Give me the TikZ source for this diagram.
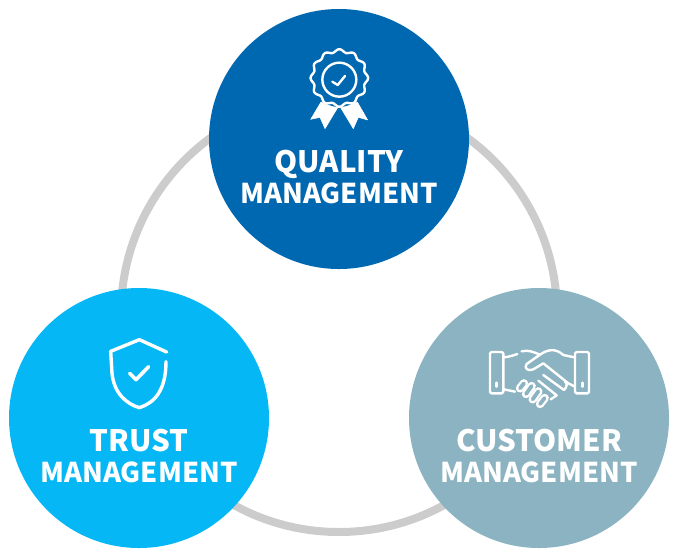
\documentclass[tikz,border=0pt]{standalone}
\usepackage{fontspec}
\setmainfont{Noto Sans CJK KR}
\tikzset{
  disc/.style={circle,minimum size=260pt,inner sep=0pt,draw=none},
  labelbig/.style={text=white,font=\fontsize{29.5}{34}\selectfont\bfseries,align=center,inner sep=0pt,anchor=base},
  labelsmall/.style={text=white,font=\fontsize{27.3}{34}\selectfont\bfseries,align=center,inner sep=0pt,anchor=base},
  icon/.style={draw=white,line width=2.3pt,line cap=round,line join=round,fill=none},
  iconfill/.style={fill=white,draw=white,line width=.5pt,line join=round},
  thinicon/.style={draw=white,line width=2.4pt,line cap=round,line join=round,fill=none},
  fingerout/.style={draw=white,line width=8.4pt,line cap=round},
  fingerin/.style={draw=cust,line width=3.8pt,line cap=round}
}
\definecolor{qual}{HTML}{0067B1}
\definecolor{trust}{HTML}{06B7F5}
\definecolor{cust}{HTML}{8BB3C1}
\definecolor{ringc}{HTML}{CCCCCC}
\begin{document}
\begin{tikzpicture}[x=1pt,y=-1pt]
\useasboundingbox (0,0) rectangle (679,558);
\node[circle,draw=ringc,line width=8pt,minimum size=436pt,inner sep=0pt] (ring) at (339,314) {};
\node[disc,fill=qual] (q) at (339,139) {};
\node[disc,fill=trust] (t) at (139,418) {};
\node[disc,fill=cust] (c) at (539,418) {};
\node[labelbig] (ql1) at (339,172.5) {QUALITY};
\node[labelsmall] (ql2) at (339,203.5) {MANAGEMENT};
\node[labelbig] (tl1) at (139,451.5) {TRUST};
\node[labelsmall] (tl2) at (139,482.5) {MANAGEMENT};
\node[labelbig] (cl1) at (539,451.5) {CUSTOMER};
\node[labelsmall] (cl2) at (539,482.5) {MANAGEMENT};
% medal
\begin{scope}[shift={(290,40)},x=.3333pt,y=-.3333pt]
\draw[thinicon,smooth cycle,domain=0:360,samples=97,variable=\a]
  plot ({148+(82+4.5*cos(12*\a))*cos(\a)},{114+(82+4.5*cos(12*\a))*sin(\a)});
\draw[thinicon] (148,119) circle[radius=51];
\draw[thinicon] (127,125) -- (143,135) -- (165,108);
\fill[iconfill] (93,186) -- (62,238) -- (90,232) -- (105,266) -- (143,203) to[bend left=8] cycle;
\fill[iconfill] (202,186) -- (233,240) -- (205,232) -- (190,266) -- (152,203) to[bend right=8] cycle;
\end{scope}
% shield
\begin{scope}[shift={(90,330)},x=.3333pt,y=-.3333pt]
\draw[icon,line width=3.4pt] (230,66) -- (148,29) -- (62,64)
  -- (66,130) .. controls (72,190) and (110,222) .. (148,233)
  .. controls (190,220) and (228,185) .. (228,95);
\draw[icon,line width=3.6pt] (119,130) -- (138,149) -- (176,110);
\end{scope}
% handshake
\begin{scope}[shift={(480,340)},x=.3333pt,y=-.3333pt]
\draw[thinicon,rounded corners=1.5pt] (30,36) rectangle (70,160);
\draw[thinicon,rounded corners=1.5pt] (285,36) rectangle (327,160);
\draw[thinicon] (50,128) -- (50,140);
\draw[thinicon] (307,128) -- (307,140);
\draw[thinicon] (72,52) .. controls (90,50) and (100,46) .. (112,42);
\draw[thinicon] (125,34) .. controls (145,28) and (165,38) .. (180,44)
  .. controls (200,30) and (225,22) .. (250,45) -- (283,52);
\draw[thinicon] (180,44) -- (140,72) .. controls (130,85) and (145,95) .. (160,88)
  -- (190,70) -- (265,130) -- (285,140);
\draw[thinicon] (72,148) -- (105,155);
\draw[thinicon] (190,105) -- (252,150);
\draw[thinicon] (175,122) -- (230,166);
\draw[thinicon] (252,150) .. controls (262,140) and (262,130) .. (255,125);
\draw[thinicon] (230,166) -- (212,178);
\draw[fingerout] (120,145) -- (132,130);
\draw[fingerout] (138,162) -- (155,138);
\draw[fingerout] (158,178) -- (175,154);
\draw[fingerout] (180,192) -- (194,174);
\draw[fingerin] (120,145) -- (132,130);
\draw[fingerin] (138,162) -- (155,138);
\draw[fingerin] (158,178) -- (175,154);
\draw[fingerin] (180,192) -- (194,174);
\end{scope}
\end{tikzpicture}
\end{document}
